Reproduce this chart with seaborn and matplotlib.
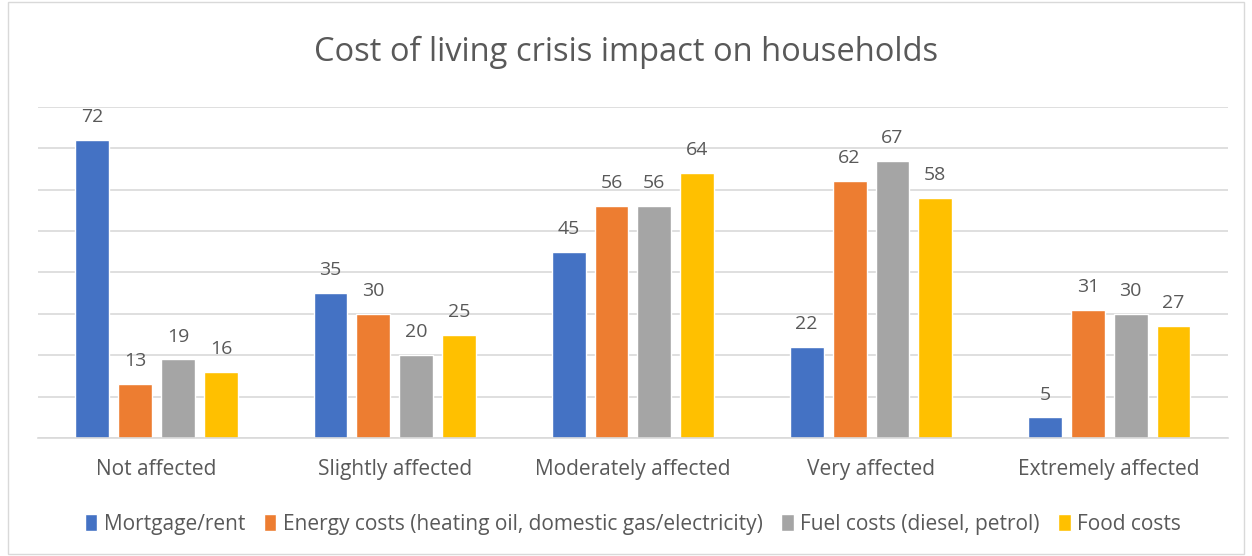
import numpy as np
import pandas as pd
import seaborn as sns
import matplotlib.pyplot as plt
from matplotlib.patches import Rectangle

categories = ['Not affected', 'Slightly affected', 'Moderately affected', 'Very affected', 'Extremely affected']
series = ['Mortgage/rent', 'Energy costs (heating oil, domestic gas/electricity)',
          'Fuel costs (diesel, petrol)', 'Food costs']
mortgage = [72, 35, 45, 22, 5]
energy = [13, 30, 56, 62, 31]
fuel = [19, 20, 56, 67, 30]
food = [16, 25, 64, 58, 27]
colors = ['#4472C4', '#ED7D31', '#A5A5A5', '#FFC000']

df = pd.DataFrame({
    'category': categories * 4,
    'series': np.repeat(series, len(categories)),
    'value': mortgage + energy + fuel + food,
})

sns.set_style('white')
plt.rcParams['font.family'] = ['Open Sans', 'DejaVu Sans']
text_col = '#595959'

fig = plt.figure(figsize=(12.52, 5.56), dpi=100)
ax = fig.add_axes([0.030, 0.212, 0.951, 0.596])

sns.barplot(data=df, x='category', y='value', hue='series', order=categories,
            hue_order=series, palette=colors, width=0.72, gap=0.21,
            saturation=1, ax=ax, legend=True)

for c in ax.containers:
    ax.bar_label(c, fmt='%d', padding=10, fontsize=14, color=text_col)

ax.set_ylim(0, 80)
ax.set_yticks(np.arange(0, 81, 10))
ax.set_yticklabels([])
ax.tick_params(axis='y', length=0)
ax.tick_params(axis='x', length=0, labelsize=15, labelcolor=text_col, pad=15)
ax.yaxis.grid(True, color='#D9D9D9', linewidth=1.2)
ax.set_axisbelow(True)
for s in ['top', 'right', 'left']:
    ax.spines[s].set_visible(False)
ax.spines['bottom'].set_color('#D9D9D9')
ax.spines['bottom'].set_linewidth(1.2)
ax.set_xlabel('')
ax.set_ylabel('')

h, l = ax.get_legend_handles_labels()
ax.legend(h, l, loc='center', bbox_to_anchor=(0.5, -0.26), ncol=4, frameon=False,
          fontsize=15, labelcolor=text_col, handlelength=0.6, handleheight=0.9,
          handletextpad=0.3, columnspacing=0.9)

fig.text(0.5, 0.906, 'Cost of living crisis impact on households', ha='center', va='center',
         fontsize=23.5, color=text_col)

fig.patches.append(Rectangle((0.006, 0.004), 0.988, 0.992, transform=fig.transFigure,
                             fill=False, edgecolor='#D9D9D9', linewidth=1))

fig.savefig('out.png', dpi=100)
